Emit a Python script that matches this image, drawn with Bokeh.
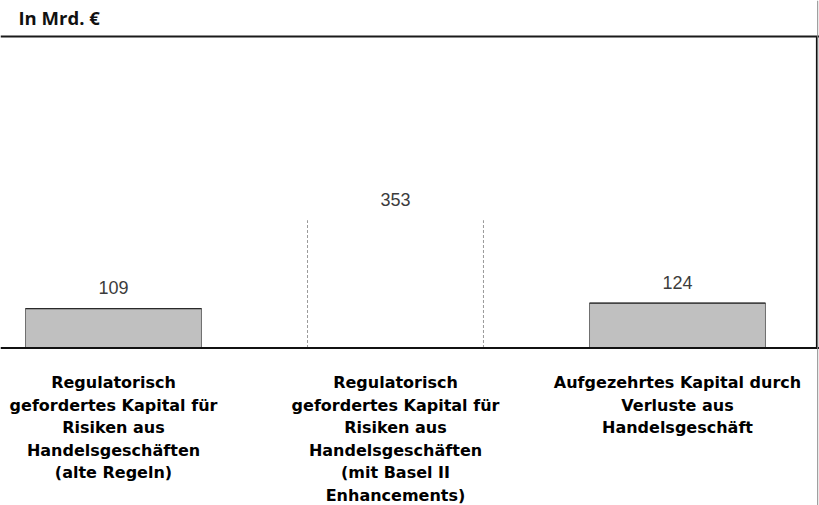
from bokeh.plotting import figure
from bokeh.models import Range1d, ColumnDataSource, Span, Label
from bokeh.core.properties import value
from bokeh.embed import file_html
from bokeh.resources import INLINE
import numpy as np

# ---- data ----
categories = [
    "Regulatorisch\ngefordertes Kapital für\nRisiken aus\nHandelsgeschäften\n(alte Regeln)",
    "Regulatorisch\ngefordertes Kapital für\nRisiken aus\nHandelsgeschäften\n(mit Basel II\nEnhancements)",
    "Aufgezehrtes Kapital durch\nVerluste aus\nHandelsgeschäft",
]
values = [109, 353, 124]
value_labels = ["109", "353", "124"]
unit_label = "In Mrd. €"

# ---- layout (pixels) ----
W, H = 819, 505
BASE = 347.5      # baseline pixel row
K = 0.362         # pixels per Mrd. €
X0, DX = 113, 282  # first category centre and spacing in px
BAR_W = 0.624
HEADER_LINE = 36

x = np.arange(len(values), dtype=float)
vals = np.array(values, dtype=float)

p = figure(width=W, height=H, output_backend="svg", toolbar_location=None,
           x_range=Range1d(-X0 / DX, (W - X0) / DX),
           y_range=Range1d(-(H - BASE) / K, BASE / K),
           min_border=0, margin=(0, 0, 0, 0))
p.axis.visible = False
p.grid.visible = False
p.outline_line_color = None
p.background_fill_color = "white"
p.border_fill_color = "white"

solid = [0, 2]
dashed = [1]

src_solid = ColumnDataSource(dict(x=x[solid], top=vals[solid]))
p.vbar(x="x", top="top", bottom=0, width=BAR_W, source=src_solid,
       fill_color="#c0c0c0", line_color="#6e6e6e", line_width=1)
# dark top edge of the solid bars
p.segment(x0=x[solid] - BAR_W / 2, x1=x[solid] + BAR_W / 2,
          y0=vals[solid], y1=vals[solid], line_color="#2a2a2a", line_width=1.2)

# dashed-outline bar (sides only)
xd = x[dashed]
vd = vals[dashed]
p.segment(x0=np.concatenate([xd - BAR_W / 2, xd + BAR_W / 2]),
          x1=np.concatenate([xd - BAR_W / 2, xd + BAR_W / 2]),
          y0=np.zeros(2 * len(xd)), y1=np.concatenate([vd, vd]),
          line_color="#9a9a9a", line_width=1, line_dash="3 2")

# value labels
p.text(x=x, y=vals, text=value_labels, y_offset=-21,
       text_align="center", text_baseline="middle",
       text_font=value("Liberation Sans"), text_font_size="18px",
       text_color="#3c3c3c")

# category labels
p.text(x=x, y=np.zeros(len(x)), text=categories, y_offset=25,
       text_align="center", text_baseline="top",
       text_font=value("DejaVu Sans"), text_font_style="bold",
       text_font_size="16px", text_color="#000000", text_line_height=1.19)

# frame lines
p.add_layout(Span(location=0, dimension="width", line_color="#111111", line_width=2.2))
p.add_layout(Span(location=(BASE - HEADER_LINE) / K, dimension="width",
                  line_color="#1a1a1a", line_width=2.2))
xr = (816.5 - X0) / DX
p.add_layout(Span(location=xr + 0.7 / DX, dimension="height", line_color="#8a8a8a", line_width=1))
p.segment(x0=[xr], x1=[xr], y0=[0], y1=[(BASE - HEADER_LINE) / K],
          line_color="#111111", line_width=2.2)

p.add_layout(Label(x=18, y=H - 17, x_units="screen", y_units="screen",
                   text=unit_label, text_font="Open Sans", text_font_style="bold",
                   text_font_size="18.5px", text_baseline="middle", text_color="#111111"))

open("out.html", "w").write(file_html(p, INLINE))
